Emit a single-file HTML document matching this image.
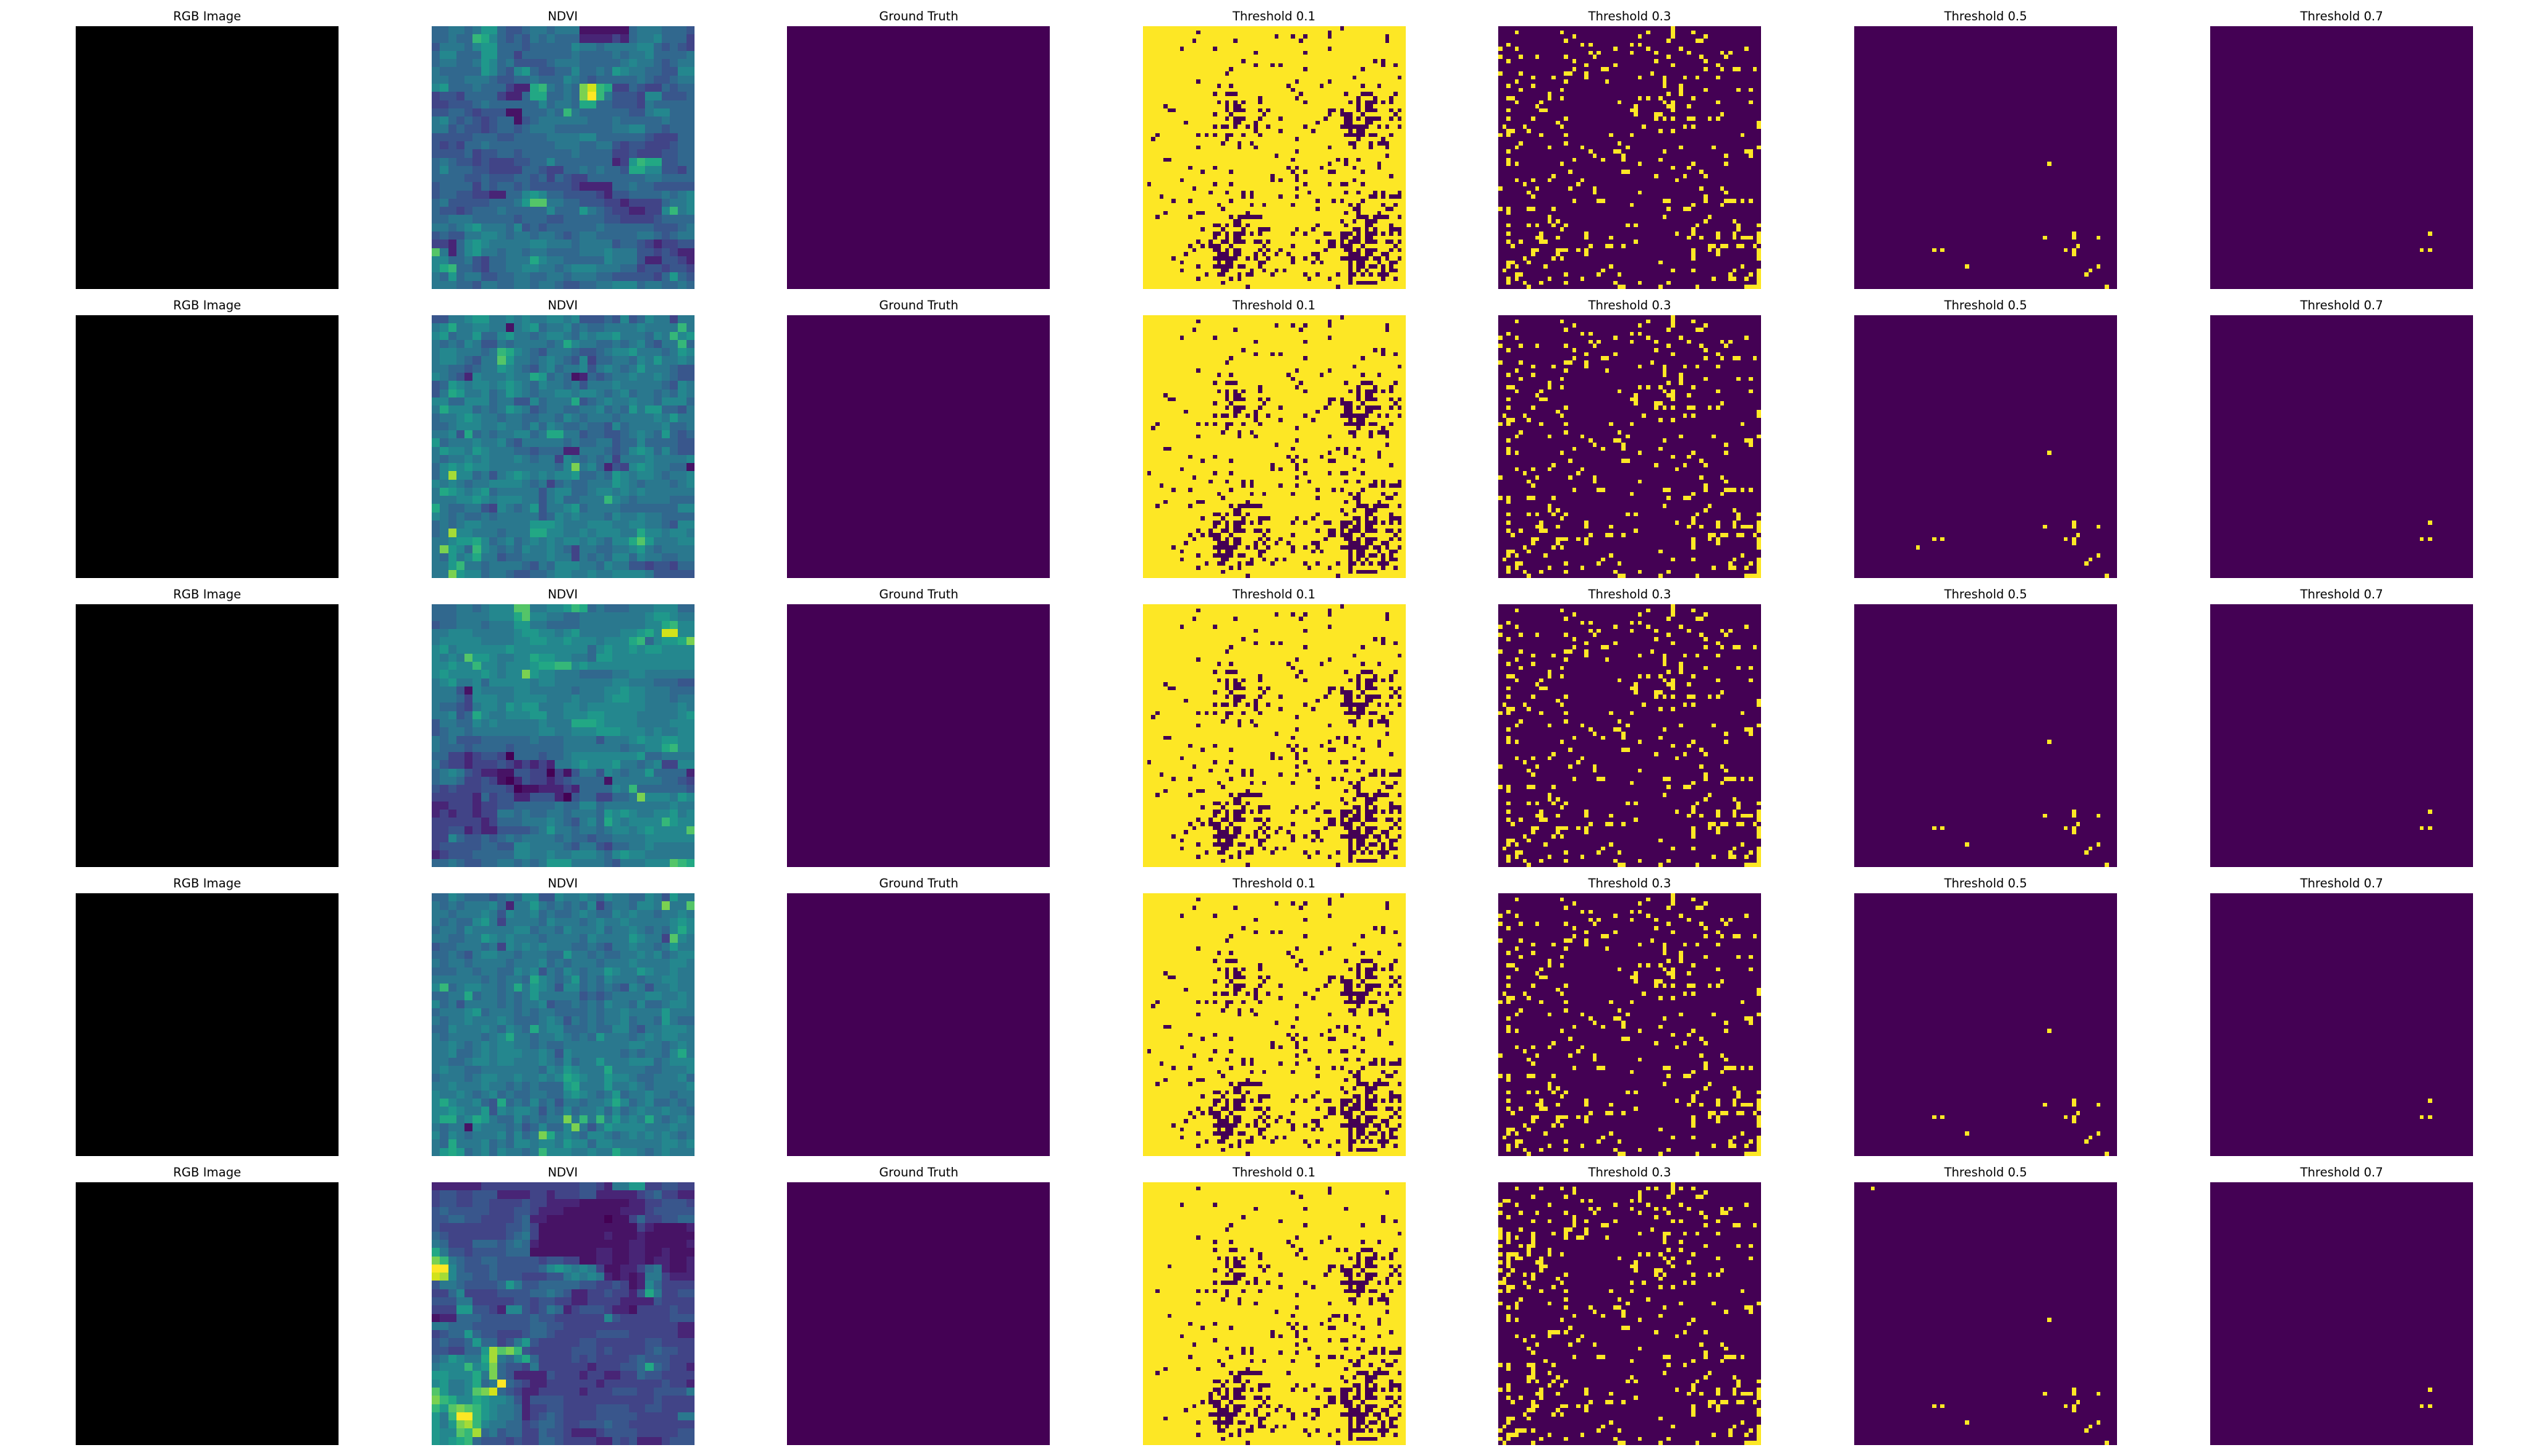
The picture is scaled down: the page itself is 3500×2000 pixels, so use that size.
<!DOCTYPE html>
<html lang="en">
<head>
<meta charset="utf-8">
<title>Threshold comparison grid</title>
<style>
html,body{margin:0;padding:0;background:#fff;width:3500px;height:2000px;overflow:hidden}
svg{display:block}
text{font-family:"DejaVu Sans","Liberation Sans",sans-serif;font-size:16.67px;fill:#000;text-anchor:middle}
rect{shape-rendering:crispEdges}
</style>
</head>
<body>
<svg id="chart" xmlns="http://www.w3.org/2000/svg" width="3500" height="2000" viewBox="0 0 3500 2000">
<rect x="0" y="0" width="3500" height="2000" fill="#fff"/>
<g id="row0" transform="translate(0,0)">
<text x="284.5" y="28">RGB Image</text><rect x="104" y="36" width="361" height="361" fill="#000"/>
<text x="773" y="28">NDVI</text>
<text x="1262" y="28">Ground Truth</text><rect x="1081" y="36" width="361" height="361" fill="#440154"/>
<text x="1750" y="28">Threshold 0.1</text>
<text x="2238.5" y="28">Threshold 0.3</text>
<text x="2727.5" y="28">Threshold 0.5</text>
<text x="3216.5" y="28">Threshold 0.7</text>
</g>
<g id="row1" transform="translate(0,397)">
<text x="284.5" y="28">RGB Image</text><rect x="104" y="36" width="361" height="361" fill="#000"/>
<text x="773" y="28">NDVI</text>
<text x="1262" y="28">Ground Truth</text><rect x="1081" y="36" width="361" height="361" fill="#440154"/>
<text x="1750" y="28">Threshold 0.1</text>
<text x="2238.5" y="28">Threshold 0.3</text>
<text x="2727.5" y="28">Threshold 0.5</text>
<text x="3216.5" y="28">Threshold 0.7</text>
</g>
<g id="row2" transform="translate(0,794)">
<text x="284.5" y="28">RGB Image</text><rect x="104" y="36" width="361" height="361" fill="#000"/>
<text x="773" y="28">NDVI</text>
<text x="1262" y="28">Ground Truth</text><rect x="1081" y="36" width="361" height="361" fill="#440154"/>
<text x="1750" y="28">Threshold 0.1</text>
<text x="2238.5" y="28">Threshold 0.3</text>
<text x="2727.5" y="28">Threshold 0.5</text>
<text x="3216.5" y="28">Threshold 0.7</text>
</g>
<g id="row3" transform="translate(0,1191)">
<text x="284.5" y="28">RGB Image</text><rect x="104" y="36" width="361" height="361" fill="#000"/>
<text x="773" y="28">NDVI</text>
<text x="1262" y="28">Ground Truth</text><rect x="1081" y="36" width="361" height="361" fill="#440154"/>
<text x="1750" y="28">Threshold 0.1</text>
<text x="2238.5" y="28">Threshold 0.3</text>
<text x="2727.5" y="28">Threshold 0.5</text>
<text x="3216.5" y="28">Threshold 0.7</text>
</g>
<g id="row4" transform="translate(0,1588)">
<text x="284.5" y="28">RGB Image</text><rect x="104" y="36" width="361" height="361" fill="#000"/>
<text x="773" y="28">NDVI</text>
<text x="1262" y="28">Ground Truth</text><rect x="1081" y="36" width="361" height="361" fill="#440154"/>
<text x="1750" y="28">Threshold 0.1</text>
<text x="2238.5" y="28">Threshold 0.3</text>
<text x="2727.5" y="28">Threshold 0.5</text>
<text x="3216.5" y="28">Threshold 0.7</text>
</g>
</svg>
<script>
// NDVI values: each hex digit is a level 0..15 on a 32x32 grid
const ndviSample1 = [
"5566 5688 5445 6656 6611 1111 5666 5554","5565 5a97 5454 6565 5522 2232 5667 5553","4666 5788 5554 5555 5766 5666 6775 4543","5775 5588 5535 5555 5655 5565 6675 5556",
"5665 5687 5644 4456 6655 5556 7665 4566","6555 5587 5478 5445 5755 6587 6655 4477","6655 6665 4455 6555 7654 5555 5654 4566","7855 5655 5322 9a65 65ce a933 5433 5455",
"3443 5555 3225 9955 65cf a644 4377 4445","3344 4565 5555 5756 6599 5544 4365 5555","4455 4344 4115 5565 a655 5555 4467 7555","6754 5434 5514 5666 6665 5565 5555 6555",
"6645 4434 5545 6665 5555 5566 7755 4555","4444 4555 4455 5566 6677 5555 5543 3355","4343 5565 5555 5556 6655 6643 4433 3455","4444 5344 5545 5555 5655 5533 4333 4455",
"5654 4343 3344 5575 5555 5523 8a99 4455","5755 5443 3335 5433 5565 6554 9977 4435","5555 4454 4455 4535 4335 5555 5566 5555","4555 5354 5545 4444 4322 2255 6554 4444",
"4554 4332 2557 8755 4444 3244 5555 6567","5644 4445 5568 bb66 5544 4332 3333 5667","5443 4555 6555 5575 5586 5433 2233 7a67","5566 6555 5545 5544 5555 5443 3334 5555",
"6656 7866 6574 5455 5555 6555 5554 4456","4544 6677 6566 5665 4566 5555 5665 4566","3325 7876 6666 7766 6566 6645 5432 3344","b625 7866 5665 6655 5566 6766 6443 4322",
"7755 6435 5666 9766 5555 5766 6422 4432","79a5 5435 5667 7665 6777 6665 5344 3443","6585 6644 5566 5566 5666 5544 4443 5854","6665 5466 5566 5665 4455 6677 7566 5565"
];
const ndviSample2 = [
"4466 7886 6767 6677 6744 4547 4576 6366","6796 6776 6167 8566 7565 5666 6766 66a6","7856 6855 7866 5677 6576 7786 6657 6a78","6565 7644 6566 6656 9766 5565 6754 66a5",
"6776 6656 a976 5466 6544 5677 8666 5687","6776 5466 b866 5676 5473 5566 5768 6676","6655 4566 8765 4675 6674 6765 6866 6544","7654 2766 6766 9856 5125 4566 7667 6544",
"4587 6776 7876 5766 5646 6676 6666 5476","4698 6675 6876 5667 7677 6567 5665 6576","7755 7775 6644 7566 6945 6766 7665 7775","6977 7565 6876 4566 5566 7565 8688 5546",
"5667 8766 5665 5665 7656 6656 6667 6866","5567 7766 7665 7576 5565 5475 6666 7556","6674 9565 6677 5699 6645 5445 6765 8545","8566 6766 7546 6666 5655 6645 5755 5544",
"6877 6876 6655 4555 2266 6545 7875 7544","6566 7676 6676 5663 7656 5636 6676 6667","5787 8776 6666 6665 7c67 5243 7876 6551","57d7 7564 6787 6767 7855 6587 6776 5667",
"7676 5667 7776 5635 6556 6687 6566 6567","6987 6785 6666 6467 7556 7767 6766 6666","6667 7876 7776 6467 5566 6a76 5666 6555","9655 6643 7656 8466 7856 6665 5555 5577",
"7656 5565 6666 6457 6766 6576 6766 5555","5656 7766 6666 8887 6667 7766 7766 5477","56d7 7666 5666 9977 6676 7776 6977 6776","6678 8975 6756 7676 7767 6577 9b86 6677",
"6c87 5a76 5657 6676 5366 5566 7865 6666","6586 7966 4556 6676 6365 6577 5766 5566","668a 6656 6665 4657 7766 5766 4434 4355","66c8 7756 6544 5567 7667 6677 7764 4444"
];
const ndviSample3 = [
"5556 6567 77bb 6677 8a95 6555 6667 7755","5556 6667 779b 7766 5566 6666 6678 8766","4556 6656 6688 6655 5566 6666 6677 9a77","6677 7666 6678 8776 7866 6667 7897 ee77",
"6777 7766 6677 8877 8777 6777 9a57 889c","7867 7777 7877 7777 7775 7877 8788 7777","7676 b887 6677 9887 7665 8877 7777 7777","7787 7a77 6777 899a a787 7777 7777 7777",
"7877 7787 677c 8776 6655 5566 7766 6666","6786 6757 7777 6776 6666 6677 6665 5544","6664 1766 6677 6666 6566 6778 7766 6555","6665 3777 6677 7766 6766 6788 7766 6566",
"6554 3677 6878 8666 7767 7777 7766 6676","6674 5976 6777 8866 7778 8777 7666 6678","4665 5767 6666 6766 6999 8777 7666 6777","4566 5666 6666 6776 6777 8887 7767 6677",
"6564 4455 5555 6555 6666 4666 7877 8877","6555 4555 5455 5555 6666 6665 6677 9a77","5533 2344 3055 5455 6777 7777 7855 6666","6433 2333 4323 2326 6787 7786 6567 3377",
"5676 4322 1144 3303 1466 4765 6685 5552","5665 3343 1024 3323 4555 5166 6666 5543","4343 3344 4301 1222 3255 5576 a555 5554","3333 3253 4422 4442 0455 3355 6c77 7687",
"2233 3233 4455 5556 5577 5666 6666 6766","2323 3233 6656 5566 5666 5878 7667 7867","3333 3323 5556 6676 5467 5976 7777 a877","3344 2322 4444 5686 6566 5677 6787 777b",
"3375 4454 5656 6665 6554 5566 6677 7777","3444 4455 4477 6666 5466 4355 6676 6666","2344 4555 5577 6676 6777 6578 7766 6666","5565 4455 6656 5688 8666 6546 6677 7ba9"
];
const ndviSample4 = [
"5576 5554 5657 7447 6676 5766 5576 4866","6565 6667 5266 8656 5657 3566 5776 c66b","6656 6676 4766 7565 5676 5576 7665 6676","6565 5786 3666 6576 6656 7667 6666 6787",
"5665 7666 6677 5665 7666 7566 7656 5797","6655 6687 6766 6566 6657 6666 8766 3b76","4556 6656 3767 6766 6556 5466 7665 6866","5565 4677 6656 6655 8665 6556 6767 5677",
"6566 5666 6566 6756 5666 5666 7666 6776","5556 6566 5576 7465 7656 6876 6876 6766","6666 6656 5665 9765 6856 5766 6566 7766","7a56 7766 5696 8764 7756 5654 7646 6766",
"5566 9566 5656 8666 6645 4566 6677 6676","7564 6666 5656 6745 5656 5766 5755 6776","5666 7856 6656 5665 5556 5667 6666 8666","6566 7666 7655 5676 4656 5667 5665 8655",
"5576 6676 5765 9677 5556 5577 5466 7776","6566 6656 7966 5667 6565 8666 5676 7766","6676 5676 7766 5655 6666 6666 7766 5676","6675 5676 7776 6764 7666 6665 6566 5796",
"6655 6776 7766 6765 7566 8666 7775 6777","6766 5566 6666 6576 8766 6966 6655 6667","5666 5677 6676 6767 9876 6877 6556 6675","6676 6676 6565 6555 8966 6866 7656 6667",
"7667 6567 5655 6655 7876 5685 6676 6566","7976 6754 9565 7564 6656 6797 5675 5656","7787 6684 7677 6465 7566 7575 6766 7665","7996 7986 5575 6566 c6a6 a686 7696 5676",
"6566 1766 6564 5755 7c64 6877 7766 6766","7576 5666 7575 6c96 7657 7656 7676 7656","6596 6675 6577 6776 8775 7766 6666 7767","6898 5675 7665 6a77 7667 6697 7656 7666"
];
const ndviSample5 = [
"2222 2233 3333 3333 3344 3266 8833 4433","3443 3444 2222 3323 3344 2222 2345 3322","3443 3443 3334 3322 2211 1111 2233 4443","4544 4443 3344 3222 1111 1112 2234 4444",
"4455 4433 3345 2211 1111 1011 3533 4455","4333 3333 3445 3111 1111 1111 1321 1112","5433 3333 3456 3111 1111 1211 1211 1111","6533 3555 4565 2111 1111 1111 2211 1112",
"9644 3444 4555 1111 1111 2211 2211 2111","ca65 4455 4444 4344 3311 2211 2212 2112","ff75 4445 4444 4578 7676 3112 2356 2112","ed75 5445 4443 3344 6767 6212 1266 3222",
"4665 4444 5864 4555 5544 3343 1275 3333","3357 3333 4444 5565 4223 3433 2496 3344","4446 6333 3344 3443 3223 3332 2224 3333","3338 8443 2774 3465 2344 4322 1333 3433",
"1225 5544 4444 5443 3333 3743 3333 3444","6655 5444 4444 5544 3333 3333 3333 3322","3455 8544 3334 5543 3333 4444 3333 3322","4544 5855 3468 4333 3344 3333 3344 3333",
"4433 558d bca4 3333 3444 3433 3345 4433","5687 669d 6579 5333 3434 3333 4544 4333","6777 a78c 5443 6333 3332 3334 4595 4332","8877 796c 5422 2243 3323 3223 3544 3333",
"7866 7956 f543 2233 3333 2333 3333 4332","b866 7bce 5432 2333 3323 3344 4334 4446","ca97 7987 7642 4444 3333 3333 3334 3333","a8bc ba87 6652 3344 3333 4444 3344 3333",
"86af fa87 6652 3454 3333 4444 4333 3366","868c da76 6553 4554 3344 4544 3333 3333","877b ad56 4553 3544 3222 3444 4333 3344","8789 a544 4343 3554 3333 2243 4222 3444"
];
// Threshold 0.1: columns below threshold in each of the 64 rows (samples 1-4 read from sample 1)
const belowThreshold01 = [
[48],[13,45],[32,36,39,45,59],[12,22,38,59],[],[9,17,45],[27,39],[],
[24,56,58],[27,31,33,58,61],[21,39,53],[20],[51,62],[13,37,45],[18,21,35,43,53,57],[36],
[17,20,21,22,38,49,53,54,55,61],[28,37,52,56,60],[18,20,22,24,28,39,50,52,54,55,56,58,60],[5,20,22,23,52,54,55],[6,7,20,22,23,24,28,30,45,46,48,52,54,55,56,60,62],[17,21,29,45,48,49,50,53,61],[20,22,23,24,28,33,44,49,50,52,54,55,56,57,60,62],[10,22,23,27,42,49,50,54,55],
[17,19,20,22,25,27,30,39,48,49,50,51,52,53,54,57,59,62],[27,33,41,50,52,53],[3,13,15,17,20,21,24,28,49,50,51,52,53,55,56,60],[2,20,37,52,58],[19,23,26,50,51,55,57,58,59],[13,23,27,45,51,55,59],[37],[32,59],
[5,6,36,47,49,52],[45,49,57],[11,17,35,37,43,51,57],[14,21,36,39,45,46,53],[31,37,60],[9,31,33,37,51],[1,17,21,39,45,48,49,53],[12,37],
[16,20,24,26,40,49,52,56,58,62],[4,24,26,33,37,55,56,58,60,61,62],[7,11,21,42,46,48,53],[18,26,29,36,50,52,58,61],[19,42,51,52,59,60],[5,13,14,25,49,52,57],[3,11,21,23,24,25,26,27,28,52,53,54,56,57,58,59,62],[22,23,48,51,54,55,56],
[17,18,20,22,23,25,42,49,54,55,60],[14,19,24,28,29,30,37,41,51,52,54,56,60,61,62],[17,18,20,22,23,24,26,28,36,39,44,45,48,49,50,52,54,55,56,58,60,62],[17,20,22,23,48,49,51,52,54,55],[13,16,19,20,22,23,24,27,28,30,42,45,46,48,50,51,52,54,55,56,59,60,62],[11,14,16,17,18,21,29,36,45,46,48,49,50,53,61],[12,17,18,20,22,23,28,30,33,44,49,50,52,54,55,56,60,62],[10,18,19,20,22,23,27,29,32,35,41,42,50,51,52,54,55,58,59],
[7,17,18,19,20,21,22,25,27,30,36,39,42,48,49,50,51,52,53,54,56,57,59,62],[9,18,20,21,28,29,36,41,43,50,52,53,57,60,61],[13,17,18,19,20,21,23,24,28,50,52,53,55,56,58,60],[9,19,20,26,29,32,34,50,52,54,58,60,61],[15,18,19,23,25,26,31,39,42,47,50,51,53,55,57,58,59],[13,21,23,40,45,50,58,61],[19,50,52,53,54,55,56],[25,47]
];
// Threshold 0.1: sample 5
const belowThreshold01Sample5 = [
[],[13,45],[36,45,59],[38],[],[9,17],[27,39,49],[],
[24,58],[33,58,61],[21,39,53],[20],[62],[13,37,45],[17,21,35,43,53,57],[36],
[17,21,22,26,38,47,49,53,54,55,61],[28,37,52,56,60],[18,20,22,24,28,39,50,52,54,55,56,58,60],[20,22,23,52,54,55],[6,20,22,23,24,28,30,45,46,48,51,52,54,55,56,60,62],[17,21,29,45,48,49,50,53,61],[20,22,23,24,33,44,49,50,52,54,55,56,60,62],[22,23,27,50,54,55,59],
[17,19,20,21,22,25,27,30,39,48,49,50,51,52,53,54,57,59,62],[33,41,50,52,53],[3,13,15,17,20,24,28,49,50,51,52,53,55,56,60],[20,37,52,58],[19,23,50,51,55,57,58,59],[13,23,27,45,51,55,59],[37],[32,59],
[6,36,46,47,49,52],[45,49,57],[11,17,35,37,43,51,57],[14,21,36,39,45,46,53],[31,37,60],[9,31,33,37,51,57],[17,39,45,48,49,53],[12,37],
[20,24,26,40,49,52,56,58,62],[24,26,33,37,55,56,58,60,61,62],[11,21,42,45,46,48,53],[18,26,29,36,50,52,58,61],[19,42,51,52,55,59,60],[5,13,25,49,57],[3,21,23,24,25,26,27,28,35,52,53,54,56,57,58,59,62],[22,23,48,51,54,55,56],
[17,18,20,22,23,25,49,54,55,60],[19,24,28,29,30,37,41,51,52,54,56,60,61,62],[17,18,20,22,23,24,26,28,36,39,44,45,48,49,50,52,54,55,56,58,60,62],[16,18,20,22,23,48,49,52,54,55],[16,19,20,22,23,24,27,28,30,42,45,46,48,49,51,52,54,55,56,59,60,62],[14,16,17,18,21,29,45,46,48,49,50,53,61],[12,17,18,20,22,23,24,28,30,33,44,49,50,52,54,55,56,60,62],[10,18,19,20,22,23,27,32,35,41,42,50,51,52,54,55,58,59],
[16,17,18,19,20,21,22,25,27,30,36,39,42,48,49,50,51,52,53,54,56,57,59,62],[5,18,20,21,28,29,36,41,50,52,53,57,60,61],[13,17,18,19,20,21,23,24,28,50,52,53,55,56,58,60],[18,20,26,28,29,32,34,50,52,54,58,60,61],[18,19,23,25,26,31,39,42,47,50,51,52,53,55,57,58,59],[13,21,23,40,45,50,58,61],[19,50,52,53,54,55,56],[25,47]
];
// Threshold 0.3: columns above threshold in each of the 64 rows (samples 1-4 read from sample 1)
const aboveThreshold03 = [
[42],[4,15,36,42,47],[18,34,42,50],[16,41,48,49],[2,20,22,32,34],[0,4,28,36,44,60],[22,24,32,38,46,54,56],[0,5,9,16,23,41,49,55],
[2,18,38,50],[21,28,42,53],[18,25,26,50,54,57,58,62],[0,5,16,17,21,37],[8,13,21,34,40,45,48,53],[4,16,26,40],[2,8,40,44],[5,15,44,50,58,61],
[12,41,44],[2,3,12,15,34,36,39,47],[4,10,29,40,42,53,61],[9,33,41,42,46],[2,10,11,32,33,42],[33,38,39,54],[2,8,16,38,40,42,46,47,51,53],[14,63],
[1,6,15,35,45,47,63],[2,3,7,39,42],[0,2,10,16,27,32,59],[],[5,16,29],[4,12,20,31,44,52,63],[2,22,28,29,40,60,61],[23,30,55,61],
[2,18,25,30,39],[2,4,15,34,47,55],[42,46],[17,30,31,49],[13,38,45,50],[4,8,12,20,43],[6,19],[0,9,17,23,49,54],
[7,23,34,55],[8,50],[18,24,25,40,41,50,55,56,57,59,61],[32,47,54],[0,2,7,8,13,41,45,46],[2],[12,40,51],[12,14,50,57],
[2,7,9,13,16,31,33,48,58,63],[15,47,58],[2,10,21,43,47,53,57,63],[9,10,14,21,27,46,49,53,57,59,60,61,63],[2,5,10,11,33,63],[3,22,26,27,30,51,52,54,55,58,59,62],[8,9,14,15,16,19,21,47,51,53,63],[8,14,21,47,53,63],
[6,13,15,47,63],[2,3,7,39],[2,4,11,27,59],[1,25,42,47,57,63],[4,5,16,24,29,56,61,63],[2,4,12,20,52,56,57,60,63],[2,6,10,16,28,34,41,63],[7,29,30,39,48,60,61,62,63]
];
// Threshold 0.3: sample 5
const aboveThreshold03Sample5 = [
[42],[4,10,15,18,36,38,42,44,47],[18,34,42,50],[8,16,34,41,48,49],[1,2,20,22,32,34],[0,4,12,28,36,44,60],[22,24,32,38,40,46,54,56],[0,5,9,16,23,34,41,49,54,55],
[2,18,38,50],[8,12,18,21,28,42,44,53],[18,25,26,50,57,58,62],[0,5,16,17,21,37],[0,2,8,13,16,21,34,40,41,45,48,53],[0,2,4,8,16,19,20,26,40],[2,8,40,44],[0,5,7,8,50,58,61],
[7,12,41,44],[0,2,3,4,7,12,15,34,36,39,47],[2,4,5,10,29,40,42,53,61],[0,2,9,10,33,41,46],[2,10,11,32,33,42],[0,3,10,33,38,39,54],[2,6,8,16,38,40,47,51,53],[1,8,14,39],
[0,1,6,15,32,35,45,47],[2,3,7,13,39,42],[0,2,10,16,27,32,59],[],[5,16,29,36],[0,4,12,31,44,52,63],[2,4,16,22,28,29,40,60,61],[23,30,55,61],
[2,18,25,30,39],[2,4,15,34,47],[46],[17,30,31],[12,13,14,16,38,45,50],[4,8,12,20,43],[6,19],[9,17,23,49,54],
[7,34,55],[8,50],[18,24,25,40,41,50,55,56,57,59],[11,32,47,54],[0,2,7,8,13,41,45],[2,8],[8,12,40,51],[7,8,14,32,50,57],
[7,9,13,16,31,33,48,58,63],[2,12,15,47,58],[0,2,10,21,43,47,53,57,63],[9,10,14,21,27,46,49,53,57,59,60,61,63],[2,5,10,33,63],[3,8,22,26,27,30,51,52,54,55,58,59,62],[8,9,15,16,19,21,47,51,53],[7,8,14,21,47,53,63],
[6,13,15,47,63],[2,3,7,39],[2,27,59],[1,25,42,57,63],[0,4,5,6,8,24,29,56,61,63],[2,3,4,12,20,52,56,60,63],[0,2,10,16,28,34,41,63],[1,8,29,30,39,48,60,61,62,63]
];
// Threshold 0.5: [row, column] pairs above threshold per sample
const aboveThreshold05Sample1 = [[33,47],[51,46],[50,53],[51,53],[51,59],[54,19],[54,21],[53,54],[54,51],[54,53],[55,53],[58,27],[58,59],[59,57],[60,56],[63,61]];
const aboveThreshold05Sample2 = [[33,47],[51,46],[50,53],[51,53],[51,59],[54,19],[54,21],[56,15],[53,54],[54,51],[54,53],[55,53],[58,59],[59,57],[60,56],[63,61]];
const aboveThreshold05Sample3 = [[33,47],[51,46],[50,53],[51,53],[51,59],[54,19],[54,21],[53,54],[54,51],[54,53],[55,53],[58,27],[58,59],[59,57],[60,56],[63,61]];
const aboveThreshold05Sample4 = [[33,47],[51,46],[50,53],[51,53],[51,59],[54,19],[54,21],[53,54],[54,51],[54,53],[55,53],[58,27],[58,59],[59,57],[60,56],[63,61]];
const aboveThreshold05Sample5 = [[1,4],[33,47],[51,46],[50,53],[51,53],[51,59],[54,19],[54,21],[53,54],[54,51],[54,53],[55,53],[58,27],[58,59],[59,57],[60,56],[63,61]];
// Threshold 0.7: [row, column] pairs above threshold
const aboveThreshold07 = [[50,53],[54,51],[54,53]];

const ndviSamples = [ndviSample1, ndviSample2, ndviSample3, ndviSample4, ndviSample5];
const samples01 = [belowThreshold01, belowThreshold01, belowThreshold01, belowThreshold01, belowThreshold01Sample5];
const samples03 = [aboveThreshold03, aboveThreshold03, aboveThreshold03, aboveThreshold03, aboveThreshold03Sample5];
const samples05 = [aboveThreshold05Sample1, aboveThreshold05Sample2, aboveThreshold05Sample3, aboveThreshold05Sample4, aboveThreshold05Sample5];
const viridisStops = ["#440154","#471365","#482576","#414487","#39568c","#31688e","#2a788e","#24878e","#1f988b","#22a884","#35b779","#54c568","#7ad151","#a5db36","#d2e21b","#fde725"];

const SVGNS = "http://www.w3.org/2000/svg";
const PANEL_SIZE = 361, PANEL_TOP = 36;
const PANEL_LEFT = {ndvi:593, t01:1570, t03:2058, t05:2547, t07:3036};
const YELLOW = "#fde725", PURPLE = "#440154";

function xScale(panel, col, n){ return PANEL_LEFT[panel] + col * PANEL_SIZE / n; }
function yScale(row, n){ return PANEL_TOP + row * PANEL_SIZE / n; }
function colorScale(level){ return viridisStops[Math.max(0, Math.min(15, level))]; }

function drawCell(parent, panel, row, col, n, fill){
  const el = document.createElementNS(SVGNS, "rect");
  
  
  const x0 = Math.round(xScale(panel, col, n)), x1 = Math.round(xScale(panel, col + 1, n));
  const y0 = Math.round(yScale(row, n)), y1 = Math.round(yScale(row + 1, n));
  el.setAttribute("x", x0);
  el.setAttribute("y", y0);
  el.setAttribute("width", x1 - x0);
  el.setAttribute("height", y1 - y0);
  el.setAttribute("fill", fill);
  parent.appendChild(el);
}

function drawPanelBg(parent, panel, fill){
  const el = document.createElementNS(SVGNS, "rect");
  
  
  el.setAttribute("x", PANEL_LEFT[panel]);
  el.setAttribute("y", PANEL_TOP);
  el.setAttribute("width", PANEL_SIZE);
  el.setAttribute("height", PANEL_SIZE);
  el.setAttribute("fill", fill);
  parent.appendChild(el);
}

ndviSamples.forEach(function(grid, s){
  const g = document.getElementById("row" + s);
  grid.forEach(function(line, r){
    const chars = line.replace(/ /g, "");
    for (let c = 0; c < chars.length; c++) {
      drawCell(g, "ndvi", r, c, 32, colorScale(parseInt(chars[c], 16)));
    }
  });
  drawPanelBg(g, "t01", YELLOW);
  samples01[s].forEach(function(cols, r){
    cols.forEach(function(c){ drawCell(g, "t01", r, c, 64, PURPLE); });
  });
  drawPanelBg(g, "t03", PURPLE);
  samples03[s].forEach(function(cols, r){
    cols.forEach(function(c){ drawCell(g, "t03", r, c, 64, YELLOW); });
  });
  drawPanelBg(g, "t05", PURPLE);
  samples05[s].forEach(function(p){ drawCell(g, "t05", p[0], p[1], 64, YELLOW); });
  drawPanelBg(g, "t07", PURPLE);
  aboveThreshold07.forEach(function(p){ drawCell(g, "t07", p[0], p[1], 64, YELLOW); });
});
</script>
</body>
</html>
